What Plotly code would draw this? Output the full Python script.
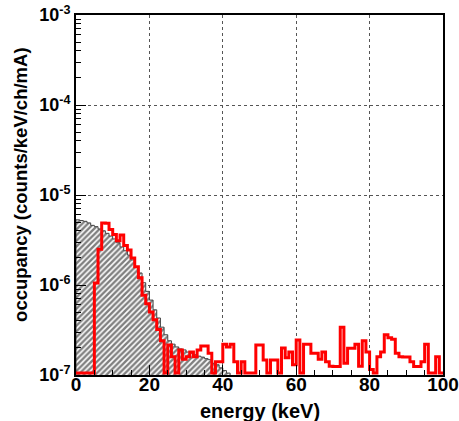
import plotly.graph_objects as go

# 1 keV bins, 0..100 keV
bin_width = 1.0
red_values = [
    0, 0, 0, 0, 0, 1.05e-6, 2.5e-6, 4.9e-6, 4.85e-6, 4.15e-6,
    3.65e-6, 3.1e-6, 3.6e-6, 2.75e-6, 2.45e-6, 2.0e-6, 1.6e-6, 1.2e-6, 7.7e-7, 6.2e-7,
    5.0e-7, 4.1e-7, 3.2e-7, 2.4e-7, 0, 2.15e-7, 1.6e-7, 0, 1.9e-7, 1.5e-7,
    1.6e-7, 1.8e-7, 1.6e-7, 1.9e-7, 2.1e-7, 2.1e-7, 1.75e-7, 0, 1.4e-7, 1.4e-7,
    2.2e-7, 2.05e-7, 2.2e-7, 1.4e-7, 0, 1.4e-7, 0, 0, 0, 2.15e-7,
    2.15e-7, 1.47e-7, 0, 1.47e-7, 1.47e-7, 0, 2.0e-7, 1.55e-7, 1.8e-7, 1.3e-7,
    2.45e-7, 0, 2.2e-7, 2.2e-7, 1.74e-7, 1.74e-7, 1.5e-7, 1.8e-7, 1.4e-7, 1.25e-7,
    1.24e-7, 1.24e-7, 3.4e-7, 1.35e-7, 1.98e-7, 1.98e-7, 2.2e-7, 1.25e-7, 2.4e-7, 1.8e-7,
    1.15e-7, 0, 1.6e-7, 1.8e-7, 2.8e-7, 2.6e-7, 2.5e-7, 1.74e-7, 1.6e-7, 1.58e-7,
    1.58e-7, 1.4e-7, 1.24e-7, 1.24e-7, 1.4e-7, 2.2e-7, 0, 0, 1.6e-7, 0,
]
black_values = [
    5.3e-6, 5.2e-6, 5.1e-6, 4.9e-6, 4.6e-6, 4.45e-6, 4.2e-6, 4.0e-6, 3.75e-6, 3.5e-6,
    3.25e-6, 2.95e-6, 2.65e-6, 2.4e-6, 2.15e-6, 1.9e-6, 1.6e-6, 1.36e-6, 1.06e-6, 8.5e-7,
    6.8e-7, 5.3e-7, 4.3e-7, 3.4e-7, 2.8e-7, 2.4e-7, 2.2e-7, 2.05e-7, 1.95e-7, 1.9e-7,
    1.8e-7, 1.75e-7, 1.68e-7, 1.62e-7, 1.58e-7, 1.52e-7, 1.48e-7, 1.35e-7, 1.3e-7, 1.2e-7,
    1.12e-7, 1.05e-7,
]
x_tick_vals = [0, 20, 40, 60, 80, 100]
x_tick_text = ["0", "20", "40", "60", "80", "100"]
y_tick_vals = [1e-7, 1e-6, 1e-5, 1e-4, 1e-3]
y_tick_text = ["10<sup>-7</sup>", "10<sup>-6</sup>", "10<sup>-5</sup>", "10<sup>-4</sup>", "10<sup>-3</sup>"]
x_title = "energy (keV)"
y_title = "occupancy (counts/keV/ch/mA)"

FLOOR = 1.05e-7      # zero bins drawn on the frame bottom (ROOT style)
BASE = 1e-9          # below axis range, for the filled polygon

# black hatched histogram polygon
bx, by = [0.0], [BASE]
for i, v in enumerate(black_values):
    lo, hi = i * bin_width, (i + 1) * bin_width
    bx += [lo, hi]
    by += [v, v]
bx.append(len(black_values) * bin_width)
by.append(BASE)

# red step line
rx = [i * bin_width for i in range(len(red_values))] + [len(red_values) * bin_width]
ry = [max(v, FLOOR) for v in red_values] + [max(red_values[-1], FLOOR)]

FAM = "Liberation Sans, Arial, sans-serif"

fig = go.Figure()
fig.add_trace(go.Scatter(
    x=bx, y=by, mode="lines", fill="toself",
    line=dict(color="#444444", width=1),
    fillcolor="white",
    fillpattern=dict(shape="/", fgcolor="black", bgcolor="white", size=4, solidity=0.6),
    hoverinfo="skip", showlegend=False,
))
fig.add_trace(go.Scatter(
    x=rx, y=ry, mode="lines", line_shape="hv",
    line=dict(color="#ff0000", width=3),
    showlegend=False,
))

fig.update_layout(
    width=459, height=421,
    margin=dict(l=76, r=16, t=15, b=46),
    paper_bgcolor="white", plot_bgcolor="white",
    font=dict(family=FAM, size=18, color="black", weight="bold"),
    xaxis=dict(
        range=[0, 100], tickvals=x_tick_vals, ticktext=x_tick_text,
        ticks="inside", ticklen=10, tickwidth=1, tickcolor="black",
        ticklabelstandoff=-9,
        minor=dict(ticks="inside", ticklen=5, dtick=5, tickcolor="black", showgrid=False),
        showline=True, linecolor="black", linewidth=2, mirror=True,
        showgrid=True, gridcolor="#555555", griddash="dot", gridwidth=1,
        zeroline=False, automargin=False,
        tickfont=dict(size=19, weight="bold", family=FAM),
    ),
    yaxis=dict(
        type="log", range=[-7, -3], tickvals=y_tick_vals, ticktext=y_tick_text,
        ticks="inside", ticklen=10, tickcolor="black",
        minor=dict(ticks="inside", ticklen=5, dtick="D1", tickcolor="black", showgrid=False),
        showline=True, linecolor="black", linewidth=2, mirror=True,
        showgrid=True, gridcolor="#555555", griddash="dot", gridwidth=1,
        zeroline=False, automargin=False,
        tickfont=dict(size=18, weight="bold", family=FAM),
    ),
    annotations=[
        dict(text=x_title, xref="paper", yref="paper", x=0.5, y=0,
             xanchor="center", yanchor="top", yshift=-23, showarrow=False,
             font=dict(size=20, weight="bold", family=FAM)),
        dict(text=y_title, xref="paper", yref="paper", x=0, y=0.528,
             xanchor="center", yanchor="middle", xshift=-55, textangle=-90,
             showarrow=False, font=dict(size=18.5, weight="bold", family=FAM)),
    ],
)

fig.write_html("out.html", config={"displayModeBar": False},
               post_script="document.body.style.margin='0';document.body.style.overflow='hidden';")
